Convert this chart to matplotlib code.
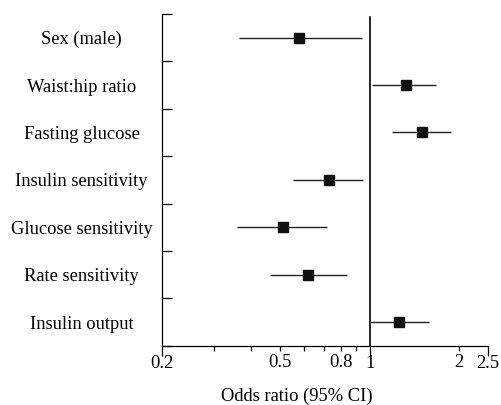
import numpy as np
import matplotlib
matplotlib.use("Agg")
import matplotlib.pyplot as plt
from matplotlib.ticker import FixedLocator, NullFormatter, FixedFormatter

plt.rcParams['font.family'] = ['Liberation Serif', 'DejaVu Serif']

labels = ['Sex (male)', 'Waist:hip ratio', 'Fasting glucose', 'Insulin sensitivity',
          'Glucose sensitivity', 'Rate sensitivity', 'Insulin output']
odds = [0.58, 1.32, 1.50, 0.73, 0.51, 0.62, 1.25]
ci_low = [0.364, 1.015, 1.19, 0.55, 0.358, 0.46, 1.0]
ci_high = [0.94, 1.675, 1.87, 0.95, 0.72, 0.84, 1.58]
# long ticks at the ends and at 1, short ticks elsewhere
xlong = [0.2, 1, 2.5]
xshort = [0.3, 0.4, 0.5, 0.6, 0.7, 0.8, 0.9, 2]
xlong_lbl = ['0.2', '1', '2.5']
xshort_lbl = ['', '', '0.5', '', '', '0.8', '', '2']

fs = 13.3

fig = plt.figure(figsize=(5.01, 4.05), dpi=100)
ax = fig.add_axes([0.3234, 0.1464, 0.6506, 0.819])

ypos = np.arange(len(labels)) + 0.5
err = [np.array(odds) - np.array(ci_low), np.array(ci_high) - np.array(odds)]
ax.errorbar(odds, ypos, xerr=err, fmt='s', color='#111111', ecolor='#222222',
            elinewidth=1.0, capsize=0, markersize=6.5, zorder=3)
ax.axvline(1, ymin=0, ymax=0.99, color='black', lw=1.2)

ax.set_xscale('log')
ax.set_xlim(0.2, 2.5)
ax.set_ylim(len(labels), 0)

ax.xaxis.set_major_locator(FixedLocator(xlong))
ax.xaxis.set_major_formatter(FixedFormatter(xlong_lbl))
ax.xaxis.set_minor_locator(FixedLocator(xshort))
ax.xaxis.set_minor_formatter(FixedFormatter(xshort_lbl))
ax.tick_params(axis='x', which='major', direction='out', length=7, width=0.9,
               labelsize=fs, pad=0)
ax.tick_params(axis='x', which='minor', direction='out', length=3.5, width=0.9,
               labelsize=fs, pad=2.5)

ax.yaxis.set_major_locator(FixedLocator(np.arange(len(labels) + 1)))
ax.yaxis.set_major_formatter(NullFormatter())
ax.yaxis.set_minor_locator(FixedLocator(ypos))
ax.yaxis.set_minor_formatter(FixedFormatter(labels))
ax.tick_params(axis='y', which='major', direction='in', length=7, width=0.9)
ax.tick_params(axis='y', which='minor', length=0, labelsize=fs, pad=58)
for t in ax.yaxis.get_minorticklabels():
    t.set_horizontalalignment('center')

for s in ['top', 'right']:
    ax.spines[s].set_visible(False)
for s in ['left', 'bottom']:
    ax.spines[s].set_linewidth(0.9)

ax.set_xlabel('Odds ratio (95% CI)', fontsize=fs, labelpad=6)
ax.xaxis.set_label_coords((297 - 162) / 326, -0.127)

fig.savefig('out.png', dpi=100)
